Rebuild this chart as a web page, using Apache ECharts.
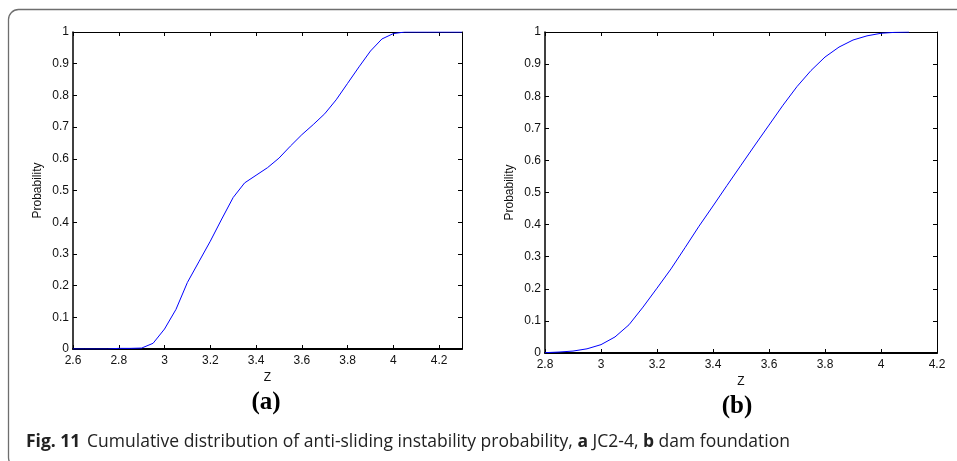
<!DOCTYPE html>
<html>
<head>
<meta charset="utf-8">
<script src="https://cdn.jsdelivr.net/npm/echarts@6/dist/echarts.min.js"></script>
<style>
html,body{margin:0;padding:0;background:#fff;}
#chart{width:957px;height:461px;}
</style>
</head>
<body>
<div id="chart"></div>
<script>
// Panel (a): JC2-4
const zA = [2.6, 2.65, 2.7, 2.75, 2.8, 2.85, 2.9, 2.95, 3.0, 3.05, 3.1, 3.15, 3.2, 3.25, 3.3, 3.35, 3.4, 3.45, 3.5, 3.55, 3.6, 3.65, 3.7, 3.75, 3.8, 3.85, 3.9, 3.95, 4.0, 4.05, 4.1, 4.15, 4.2, 4.25, 4.3];
const probA = [0, 0, 0, 0, 0.002, 0.002, 0.003, 0.018, 0.063, 0.125, 0.21, 0.275, 0.34, 0.41, 0.478, 0.524, 0.548, 0.572, 0.602, 0.64, 0.676, 0.708, 0.742, 0.786, 0.838, 0.89, 0.94, 0.978, 0.995, 1.0, 1.0, 1.0, 1.0, 1.0, 1.0];
// Panel (b): dam foundation
const zB = [2.8, 2.85, 2.9, 2.95, 3.0, 3.05, 3.1, 3.15, 3.2, 3.25, 3.3, 3.35, 3.4, 3.45, 3.5, 3.55, 3.6, 3.65, 3.7, 3.75, 3.8, 3.85, 3.9, 3.95, 4.0, 4.05, 4.1];
const probB = [0.001, 0.003, 0.006, 0.013, 0.026, 0.05, 0.088, 0.143, 0.202, 0.262, 0.328, 0.395, 0.458, 0.522, 0.585, 0.648, 0.71, 0.772, 0.83, 0.88, 0.922, 0.953, 0.975, 0.988, 0.996, 0.999, 1.0];
// Axis ranges / tick spacing
const xRangeA = [2.6, 4.3];
const xRangeB = [2.8, 4.2];
const xStep = 0.2;
const yRange = [0, 1];
const yStep = 0.1;
const axisTitleX = 'Z';
const axisTitleY = 'Probability';
const panelLabels = ['(a)', '(b)'];

const pairs = (xs, ys) => xs.map((x, i) => [x, ys[i]]);

const chart = echarts.init(document.getElementById('chart'), null, {renderer: 'canvas'});

const SANS = '"Liberation Sans"';
const tickFont = {fontFamily: SANS, fontSize: 12, color: '#111'};
const lineStyle = (w) => ({color: '#000', width: w});

function xAxes(gridIndex, range, nameGap) {
  return [
    {
      type: 'value', gridIndex, position: 'bottom', min: range[0], max: range[1], interval: xStep,
      axisLine: {show: true, onZero: false, lineStyle: lineStyle(2)},
      axisTick: {show: true, inside: true, length: 4, lineStyle: lineStyle(1)},
      axisLabel: Object.assign({margin: 6, showMaxLabel: range[1] === 4.2}, tickFont),
      splitLine: {show: false},
      name: axisTitleX, nameLocation: 'middle', nameGap: nameGap,
      nameTextStyle: {fontFamily: SANS, fontSize: 12, color: '#111'}
    },
    {
      type: 'value', gridIndex, position: 'top', min: range[0], max: range[1], interval: xStep,
      axisLine: {show: true, onZero: false, lineStyle: lineStyle(1)},
      axisTick: {show: true, inside: true, length: 4, lineStyle: lineStyle(1)},
      axisLabel: {show: false}, splitLine: {show: false}
    }
  ];
}
function yAxes(gridIndex, nameGap) {
  return [
    {
      type: 'value', gridIndex, position: 'left', min: yRange[0], max: yRange[1], interval: yStep,
      axisLine: {show: true, onZero: false, lineStyle: lineStyle(1.5)},
      axisTick: {show: true, inside: true, length: 4, lineStyle: lineStyle(1)},
      axisLabel: Object.assign({margin: 4}, tickFont),
      splitLine: {show: false},
      name: axisTitleY, nameLocation: 'middle', nameGap: nameGap, nameRotate: 90,
      nameTextStyle: {fontFamily: SANS, fontSize: 12, color: '#111'}
    },
    {
      type: 'value', gridIndex, position: 'right', min: yRange[0], max: yRange[1], interval: yStep,
      axisLine: {show: true, onZero: false, lineStyle: lineStyle(1)},
      axisTick: {show: true, inside: true, length: 4, lineStyle: lineStyle(1)},
      axisLabel: {show: false}, splitLine: {show: false}
    }
  ];
}

const option = {
  backgroundColor: '#fff',
  animation: false,
  grid: [
    {left: 73, top: 32, width: 389, height: 317, containLabel: false},
    {left: 545, top: 32, width: 392, height: 321, containLabel: false}
  ],
  xAxis: [...xAxes(0, xRangeA, 22), ...xAxes(1, xRangeB, 23)],
  yAxis: [...yAxes(0, 29), ...yAxes(1, 29)],
  series: [
    {
      type: 'line', xAxisIndex: 0, yAxisIndex: 0, data: pairs(zA, probA),
      showSymbol: false, symbol: 'none', lineStyle: {color: '#0000ff', width: 1}, z: 5
    },
    {
      type: 'line', xAxisIndex: 2, yAxisIndex: 2, data: pairs(zB, probB),
      showSymbol: false, symbol: 'none', lineStyle: {color: '#0000ff', width: 1}, z: 5
    }
  ],
  graphic: [
    {
      type: 'rect', silent: true, z: -1,
      shape: {x: 8.5, y: 9.5, width: 1000, height: 458, r: 10},
      style: {fill: 'none', stroke: '#6e6e6e', lineWidth: 1.3}
    },
    {
      type: 'text', x: 266, y: 403, silent: true,
      style: {text: panelLabels[0], font: 'bold 25px "Liberation Serif"', fill: '#000', align: 'center', verticalAlign: 'middle'}
    },
    {
      type: 'text', x: 737, y: 407, silent: true,
      style: {text: panelLabels[1], font: 'bold 25px "Liberation Serif"', fill: '#000', align: 'center', verticalAlign: 'middle'}
    },
    {
      type: 'text', x: 26, y: 442, silent: true,
      style: {
        text: '{b|Fig. 11}  {n|Cumulative distribution of anti-sliding instability probability, }{b|a}{n| JC2-4, }{b|b}{n| dam foundation}',
        verticalAlign: 'middle',
        rich: {
          b: {fontFamily: '"Open Sans"', fontWeight: 'bold', fontSize: 17.5, fill: '#222', color: '#222'},
          n: {fontFamily: '"Open Sans"', fontSize: 17.5, fill: '#222', color: '#222'}
        }
      }
    }
  ]
};
chart.setOption(option);
</script>
</body>
</html>
